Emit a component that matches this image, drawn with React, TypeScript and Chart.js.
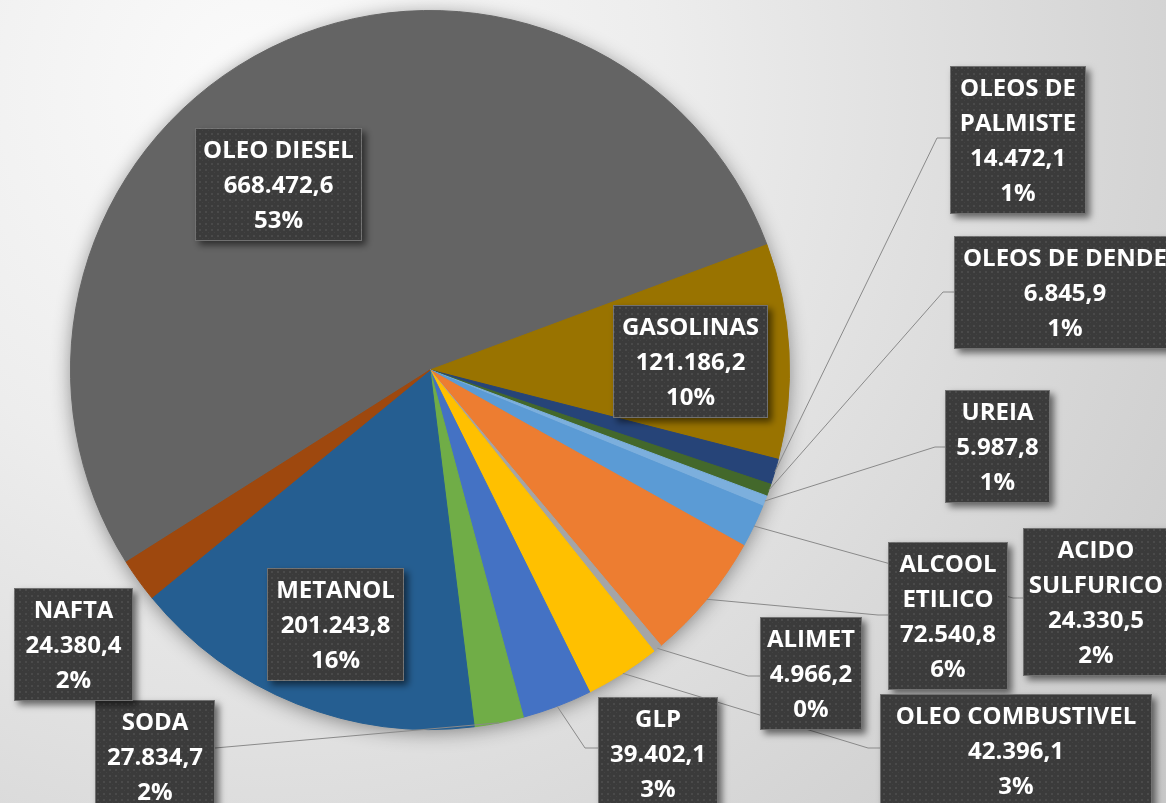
import React, { useEffect, useRef } from "react";
import { Chart, registerables } from "chart.js";

Chart.register(...registerables);

// ---- data ----
const categories = [
  "OLEO DIESEL",
  "GASOLINAS",
  "OLEOS DE PALMISTE",
  "OLEOS DE DENDE",
  "UREIA",
  "ACIDO SULFURICO",
  "ALCOOL ETILICO",
  "ALIMET",
  "OLEO COMBUSTIVEL",
  "GLP",
  "SODA",
  "METANOL",
  "NAFTA",
];
const values = [
  668472.6, 121186.2, 14472.1, 6845.9, 5987.8, 24330.5, 72540.8, 4966.2,
  42396.1, 39402.1, 27834.7, 201243.8, 24380.4,
];
const percentLabels = ["53%", "10%", "1%", "1%", "1%", "2%", "6%", "0%", "3%", "3%", "2%", "16%", "2%"];

// ---- styles ----
const colors = [
  "#646464", "#997300", "#264478", "#43682b", "#7cafdd", "#5b9bd5", "#ed7d31",
  "#a5a5a5", "#ffc000", "#4472c4", "#70ad47", "#255e91", "#9e480e",
];

// label box layout: left, top, width, words on first line (0 = one line), leader elbow + end
type LabelLayout = { x: number; y: number; w: number; split: number; leader?: number[] };
const labelLayout: LabelLayout[] = [
  { x: 195, y: 128, w: 167, split: 0 },
  { x: 613, y: 305, w: 155, split: 0 },
  { x: 950, y: 66, w: 136, split: 2, leader: [937, 138, 950, 138] },
  { x: 954, y: 236, w: 222, split: 0, leader: [943, 292, 954, 292] },
  { x: 945, y: 390, w: 105, split: 0, leader: [935, 447, 945, 447] },
  { x: 1023, y: 528, w: 146, split: 1, leader: [1013, 598, 1023, 598] },
  { x: 888, y: 542, w: 120, split: 1, leader: [878, 615, 888, 615] },
  { x: 760, y: 617, w: 102, split: 0, leader: [748, 676, 760, 676] },
  { x: 880, y: 694, w: 272, split: 0, leader: [868, 748, 880, 748] },
  { x: 598, y: 697, w: 120, split: 0, leader: [585, 748, 598, 748] },
  { x: 95, y: 700, w: 120, split: 0, leader: [215, 748, 215, 748] },
  { x: 267, y: 568, w: 137, split: 0 },
  { x: 14, y: 588, w: 119, split: 0 },
];

const LINE_H = 35;
const FONT = "bold 24px 'Open Sans'";

function fmt(v: number): string {
  const [i, d] = v.toFixed(1).split(".");
  return i.replace(/\B(?=(\d{3})+(?!\d))/g, ".") + "," + d;
}

function nameLines(name: string, split: number): string[] {
  if (!split) return [name];
  const w = name.split(" ");
  return [w.slice(0, split).join(" "), w.slice(split).join(" ")];
}

function makePattern(ctx: CanvasRenderingContext2D): CanvasPattern | string {
  const c = document.createElement("canvas");
  c.width = 6;
  c.height = 6;
  const p = c.getContext("2d");
  if (!p) return "#3d3d3d";
  p.fillStyle = "#3b3b3b";
  p.fillRect(0, 0, 6, 6);
  p.fillStyle = "#4a4a4a";
  p.fillRect(1, 1, 2, 2);
  p.fillStyle = "#434343";
  p.fillRect(4, 4, 1, 1);
  return ctx.createPattern(c, "repeat") || "#3d3d3d";
}

const backgroundPlugin = {
  id: "bg",
  beforeDraw(chart: any) {
    const ctx = chart.ctx as CanvasRenderingContext2D;
    const w = chart.width;
    const h = chart.height;
    ctx.save();
    const g = ctx.createRadialGradient(260, 90, 0, 260, 90, 1150);
    g.addColorStop(0, "#fbfbfb");
    g.addColorStop(0.35, "#ededed");
    g.addColorStop(0.75, "#d6d6d6");
    g.addColorStop(1, "#c8c8c8");
    ctx.fillStyle = g;
    ctx.fillRect(0, 0, w, h);
    ctx.restore();
  },
  beforeDatasetsDraw(chart: any) {
    const arc = chart.getDatasetMeta(0).data[0] as any;
    if (!arc) return;
    const ctx = chart.ctx as CanvasRenderingContext2D;
    ctx.save();
    ctx.shadowColor = "rgba(0,0,0,0.45)";
    ctx.shadowBlur = 20;
    ctx.shadowOffsetX = 0;
    ctx.shadowOffsetY = 3;
    ctx.fillStyle = "#777";
    ctx.beginPath();
    ctx.arc(arc.x, arc.y, arc.outerRadius - 1, 0, Math.PI * 2);
    ctx.fill();
    ctx.restore();
  },
};

const labelPlugin = {
  id: "boxLabels",
  afterDatasetsDraw(chart: any) {
    const ctx = chart.ctx as CanvasRenderingContext2D;
    const arcs = chart.getDatasetMeta(0).data as any[];
    ctx.save();
    ctx.strokeStyle = "#8a8a8a";
    ctx.lineWidth = 1;
    arcs.forEach((arc, i) => {
      const lay = labelLayout[i];
      if (!lay.leader) return;
      const mid = (arc.startAngle + arc.endAngle) / 2;
      const sx = arc.x + arc.outerRadius * Math.cos(mid);
      const sy = arc.y + arc.outerRadius * Math.sin(mid);
      ctx.beginPath();
      ctx.moveTo(sx, sy);
      ctx.lineTo(lay.leader[0], lay.leader[1]);
      ctx.lineTo(lay.leader[2], lay.leader[3]);
      ctx.stroke();
    });
    ctx.restore();
  },
  afterDraw(chart: any) {
    const ctx = chart.ctx as CanvasRenderingContext2D;
    const pattern = makePattern(ctx);
    const labels = chart.data.labels as string[];
    const data = chart.data.datasets[0].data as number[];
    labels.forEach((name, i) => {
      const lay = labelLayout[i];
      const lines = [...nameLines(name, lay.split), fmt(data[i]), percentLabels[i]];
      const h = lines.length * LINE_H + 8;
      ctx.save();
      ctx.shadowColor = "rgba(0,0,0,0.55)";
      ctx.shadowBlur = 7;
      ctx.shadowOffsetX = 4;
      ctx.shadowOffsetY = 4;
      ctx.fillStyle = pattern as any;
      ctx.fillRect(lay.x, lay.y, lay.w, h);
      ctx.restore();
      ctx.save();
      ctx.strokeStyle = "rgba(150,150,150,0.6)";
      ctx.lineWidth = 1;
      ctx.strokeRect(lay.x + 0.5, lay.y + 0.5, lay.w - 1, h - 1);
      ctx.fillStyle = "#ffffff";
      ctx.font = FONT;
      ctx.textAlign = "center";
      ctx.textBaseline = "middle";
      const cx = lay.x + lay.w / 2;
      lines.forEach((t, k) => {
        ctx.fillText(t, cx, lay.y + 23 + k * LINE_H);
      });
      ctx.restore();
    });
  },
};

export default function App() {
  const ref = useRef<HTMLCanvasElement | null>(null);
  useEffect(() => {
    if (!ref.current) return;
    const chart = new Chart(ref.current, {
      type: "pie",
      data: {
        labels: categories,
        datasets: [
          {
            data: values,
            backgroundColor: colors,
            borderColor: colors,
            borderWidth: 1,
            hoverOffset: 0,
          },
        ],
      },
      options: {
        responsive: false,
        animation: false,
        events: [],
        rotation: 237.7,
        layout: { padding: { left: 70, top: 10, right: 376, bottom: 73 } },
        plugins: { legend: { display: false }, tooltip: { enabled: false } },
      },
      plugins: [backgroundPlugin, labelPlugin],
    } as any);
    return () => chart.destroy();
  }, []);
  return (
    <div style={{ position: "fixed", left: 0, top: 0, width: 1166, height: 803, overflow: "hidden" }}>
      <canvas ref={ref} width={1166} height={803} style={{ display: "block" }} />
    </div>
  );
}
